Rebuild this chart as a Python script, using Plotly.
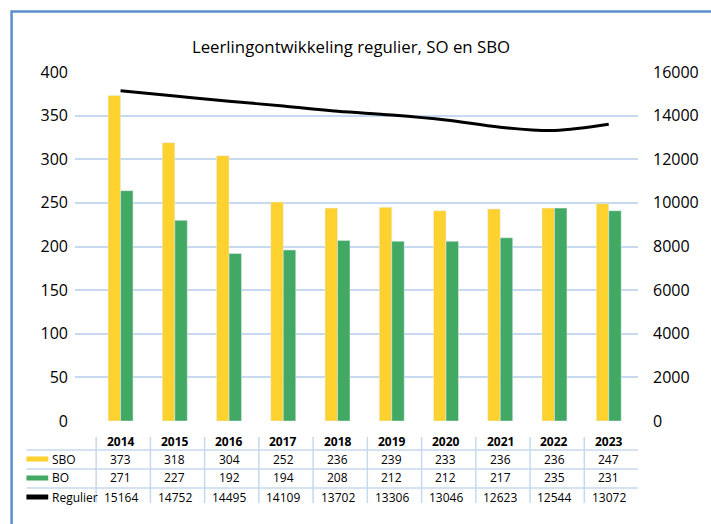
import plotly.graph_objects as go

years = ["2014", "2015", "2016", "2017", "2018", "2019", "2020", "2021", "2022", "2023"]

# bar heights as drawn in the chart
sbo_bars = [373, 319, 304, 251, 244, 245, 241, 243, 244, 249]
bo_bars = [264, 230, 192, 196, 207, 206, 206, 210, 244, 241]
regulier_line = [15140, 14900, 14660, 14440, 14200, 14030, 13800, 13470, 13320, 13600]

# values printed in the data table below the chart
sbo_table = [373, 318, 304, 252, 236, 239, 233, 236, 236, 247]
bo_table = [271, 227, 192, 194, 208, 212, 212, 217, 235, 231]
regulier_table = [15164, 14752, 14495, 14109, 13702, 13306, 13046, 12623, 12544, 13072]

row_names = ["SBO", "BO", "Regulier"]

YELLOW = "#FDD12E"
GREEN = "#41A963"
BLACK = "#000000"
GRID = "#C6D9EE"
FRAME = "#5B8FC9"
FONT = "Open Sans"
TABLE_SIZE = 12

W, H = 711, 524
L, R, T, B = 75, 643, 72, 421


def px_x(x):
    return (x - L) / (R - L)


def px_y(y):
    return (B - y) / (B - T)


fig = go.Figure()
fig.add_trace(go.Bar(x=years, y=sbo_bars, name="SBO", marker_color=YELLOW))
fig.add_trace(go.Bar(x=years, y=bo_bars, name="BO", marker_color=GREEN))
fig.add_trace(
    go.Scatter(
        x=years,
        y=regulier_line,
        name="Regulier",
        yaxis="y2",
        mode="lines",
        line=dict(color=BLACK, width=3, shape="spline", smoothing=1.0),
    )
)

annotations = []
shapes = []

# data table
row_y = [459, 478, 497]
row_colors = [YELLOW, GREEN, BLACK]
row_values = [sbo_table, bo_table, regulier_table]
for name, y, color, values in zip(row_names, row_y, row_colors, row_values):
    shapes.append(dict(type="line", xref="paper", yref="paper",
                       x0=px_x(26), x1=px_x(48), y0=px_y(y), y1=px_y(y),
                       line=dict(color=color, width=5)))
    annotations.append(dict(text=name, xref="paper", yref="paper",
                            x=px_x(50), y=px_y(y), xanchor="left", yanchor="middle",
                            showarrow=False, font=dict(family=FONT, size=TABLE_SIZE, color="#000")))
    for i, v in enumerate(values):
        annotations.append(dict(text=str(v), xref="x", yref="paper", x=i, y=px_y(y),
                                xanchor="center", yanchor="middle", showarrow=False,
                                font=dict(family=FONT, size=TABLE_SIZE, color="#000")))

for i, year in enumerate(years):
    annotations.append(dict(text="<b>%s</b>" % year, xref="x", yref="paper", x=i,
                            y=px_y(441), xanchor="center", yanchor="middle",
                            showarrow=False, font=dict(family=FONT, size=TABLE_SIZE, color="#000")))

for y in [450, 469, 488]:
    shapes.append(dict(type="line", xref="paper", yref="paper",
                       x0=px_x(26), x1=1, y0=px_y(y), y1=px_y(y),
                       line=dict(color=GRID, width=1.5)))

for i in range(len(years)):
    shapes.append(dict(type="line", xref="x", yref="paper",
                       x0=i - 0.45, x1=i - 0.45, y0=px_y(437), y1=px_y(503),
                       line=dict(color=GRID, width=1.5)))

# chart frame (top and left)
shapes.append(dict(type="path", xref="paper", yref="paper",
                   path="M %f %f L %f %f L %f %f" % (px_x(11), px_y(530), px_x(11), px_y(11.5),
                                                     px_x(720), px_y(11.5)),
                   line=dict(color=FRAME, width=2.5)))

fig.update_layout(
    width=W,
    height=H,
    title=dict(text="Leerlingontwikkeling regulier, SO en SBO", x=351 / W, xanchor="center",
               y=1 - 47 / H, yanchor="middle", font=dict(family=FONT, size=16.8, color="#000")),
    barmode="group",
    bargap=0.54,
    bargroupgap=0,
    showlegend=False,
    plot_bgcolor="white",
    paper_bgcolor="white",
    margin=dict(l=L, r=W - R, t=T, b=H - B),
    font=dict(family=FONT, size=16, color="#000"),
    xaxis=dict(type="category", range=[-0.84, 9.54], showticklabels=False, showgrid=False,
               zeroline=False, showline=False, ticks=""),
    yaxis=dict(range=[0, 400], dtick=50, gridcolor=GRID, gridwidth=1.5, zeroline=False,
               showline=False, ticks="", ticklabelstandoff=6),
    yaxis2=dict(range=[0, 16000], dtick=2000, tickformat="d", overlaying="y", side="right",
                showgrid=False, zeroline=False, showline=False, ticks="", ticklabelstandoff=14),
    annotations=annotations,
    shapes=shapes,
)

fig.write_html(
    "out.html",
    config={"displayModeBar": False},
    post_script="document.body.style.margin = '0';",
)
